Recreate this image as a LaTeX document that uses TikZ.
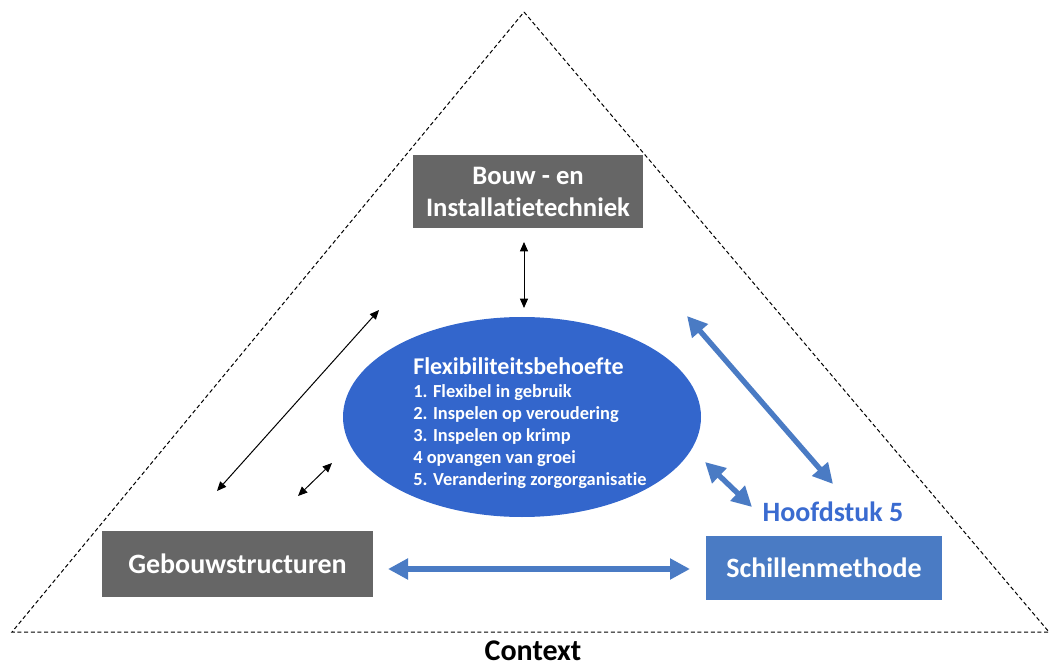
\documentclass[tikz,border=0pt]{standalone}
\usepackage{fontspec}
\setmainfont{Carlito}[Ligatures=CommonOff]
\usetikzlibrary{arrows.meta, shapes.geometric}
\definecolor{boxgray}{HTML}{666666}
\definecolor{flexblue}{HTML}{3366CC}
\definecolor{shellblue}{HTML}{4A7BC4}
\definecolor{chapblue}{HTML}{3A6BD0}

\begin{document}
\begin{tikzpicture}[x=0.75pt, y=-0.75pt,
  graybox/.style={fill=boxgray, text=white, align=center, inner sep=0pt},
  thinarrow/.style={{Triangle[length=7pt, width=6pt]}-{Triangle[length=7pt, width=6pt]}, line width=0.75pt, black},
  thickarrow/.style={{Triangle[length=15pt, width=15pt]}-{Triangle[length=15pt, width=15pt]}, line width=4pt, shellblue}]

\useasboundingbox (0,0) rectangle (1052,666);

% Context triangle
\draw[black, line width=0.75pt, dash pattern=on 3pt off 2pt]
  (524,12) -- (1049,632) -- (12,632) -- cycle;
\node[anchor=base, inner sep=0pt, font=\bfseries\fontsize{22.5}{27}\selectfont] (context) at (533,660) {Context};

% ========== Boxes ==========
\node[graybox, minimum width=172.5pt, minimum height=54.75pt, font=\bfseries\fontsize{20}{24}\selectfont]
  (bouw) at (528,192) {Bouw - en\\Installatietechniek};
\node[graybox, minimum width=203.25pt, minimum height=49.5pt, font=\bfseries\fontsize{21}{25}\selectfont]
  (gebouw) at (237.5,563.5) {Gebouwstructuren};
\node[graybox, fill=shellblue, minimum width=177pt, minimum height=48pt, font=\bfseries\fontsize{21}{25}\selectfont]
  (schil) at (824,568) {Schillenmethode};
\node[font=\bfseries\fontsize{21}{25}\selectfont, text=chapblue] (hfst) at (833,512) {Hoofdstuk 5};

% ========== Flexibility ellipse ==========
\node[ellipse, fill=flexblue, minimum width=268.5pt, minimum height=150pt, inner sep=0pt] (flex) at (522,417) {};
\node[anchor=base west, inner sep=0pt, text=white, font=\bfseries\fontsize{18}{22}\selectfont]
  (flextitle) at (413,374) {Flexibiliteitsbehoefte};
\node[anchor=north west, inner sep=0pt, text=white, align=left, font=\bfseries\fontsize{13.8}{16.5}\selectfont]
  (flexlist) at (413,384) {1. Flexibel in gebruik\\2. Inspelen op veroudering\\3. Inspelen op krimp\\4 opvangen van groei\\5. Verandering zorgorganisatie};

% ========== Arrows ==========
\coordinate (bt) at (524,242);
\coordinate (bb) at (524,308);
\coordinate (gl) at (217,491);
\coordinate (gu) at (379,310);
\coordinate (sl) at (298,496);
\coordinate (su) at (332,463);
\coordinate (hl) at (388,569);
\coordinate (hr) at (690,569);
\coordinate (dt) at (687,316);
\coordinate (db) at (833,484);
\coordinate (ct) at (705,462);
\coordinate (cb) at (752,507);

\draw[thinarrow] (bt) -- (bb);
\draw[thinarrow] (gl) -- (gu);
\draw[thinarrow] (sl) -- (su);
\draw[thickarrow] (hl) -- (hr);
\draw[thickarrow] (dt) -- (db);
\draw[thickarrow] (ct) -- (cb);

\end{tikzpicture}
\end{document}
